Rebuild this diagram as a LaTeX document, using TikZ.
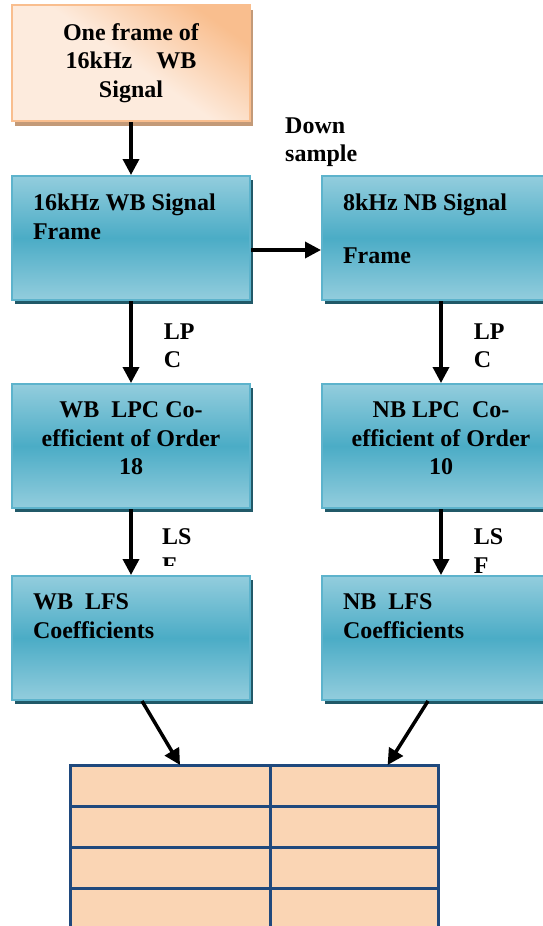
\documentclass[tikz,border=0pt]{standalone}
\usepackage{fontspec}
\setmainfont{Liberation Serif}
\usetikzlibrary{positioning, calc, shadows, arrows.meta}
\definecolor{boxtop}{HTML}{93CDDD}
\definecolor{boxmid}{HTML}{4BACC6}
\definecolor{boxline}{HTML}{5DB3CC}
\definecolor{boxshade}{HTML}{215968}
\definecolor{peachpale}{HTML}{FDEBDD}
\definecolor{peachdeep}{HTML}{F9BE8E}
\definecolor{peachshade}{HTML}{C39A78}
\definecolor{cellfill}{HTML}{FAD5B4}
\definecolor{cellline}{HTML}{1F497D}
\newcommand\inbox[2][196pt]{%
  \parbox[c][88pt][t]{#1}{#2}%
}

\begin{document}
\begin{tikzpicture}[x=1pt, y=1pt, node distance=100pt, on grid,
    font=\fontsize{24}{28.5}\selectfont\bfseries,
    >={Triangle[length=16pt, width=16pt]},
    sigbox/.style={rectangle, draw=boxline, line width=2pt,
      top color=boxtop, bottom color=boxtop, middle color=boxmid,
      minimum width=238pt, minimum height=124pt, inner sep=0pt,
      general shadow={fill=boxshade, shadow xshift=3pt, shadow yshift=-4pt}},
    framebox/.style={rectangle, draw=peachdeep, line width=2pt,
      top color=peachdeep, bottom color=peachpale, middle color=peachpale,
      shading angle=-35,
      minimum width=238pt, minimum height=116pt, align=center,
      general shadow={fill=peachshade, shadow xshift=3pt, shadow yshift=-5pt}},
    cell/.style={rectangle, draw=cellline, line width=3pt, fill=cellfill,
      minimum height=41pt, inner sep=0pt, outer sep=0pt},
    flow/.style={->, line width=3.5pt},
    tag/.style={align=left, inner sep=0pt}]
    \useasboundingbox (0,0) rectangle (543,-926);

    \node[framebox] (frame) at (131,-63) {One frame of\\16kHz\quad WB\\Signal};
    \node[sigbox] (wbsig) [below=175pt of frame] {\inbox{16kHz WB Signal\\Frame}};
    \node[sigbox] (nbsig) [right=310pt of wbsig] {\inbox{8kHz NB Signal\\[24pt]Frame}};
    \node[sigbox] (wblpc) [below=208pt of wbsig] {\inbox{\centering WB\ \ LPC Co-\\efficient of Order\\18}};
    \node[sigbox] (nblpc) [below=208pt of nbsig] {\inbox{\centering NB LPC\ \ Co-\\efficient of Order\\10}};
    \node[sigbox] (wblfs) [below=192pt of wblpc] {\inbox{WB\ \ LFS\\Coefficients}};
    \node[sigbox] (nblfs) [below=192pt of nblpc] {\inbox{NB\ \ LFS\\Coefficients}};
    \node[tag, anchor=south west] (down) at ($(nbsig.north west)+(-36,8)$) {Down\\sample};

    % the table of coefficients
    \foreach \r in {1,...,4} {
      \node[cell, minimum width=200pt] (a\r) at (170,-744.5-41*\r) {};
      \node[cell, minimum width=168pt] (b\r) at (354,-744.5-41*\r) {};
    }

    \draw[flow] (frame) -- (wbsig);
    \draw[flow] ($(wbsig.east)+(0,-12)$) -- ($(nbsig.west)+(0,-12)$);
    \draw[flow] (wbsig) -- node[tag, right, xshift=31pt, yshift=-4pt] (lpcwb) {LP\\C} (wblpc);
    \draw[flow] (nbsig) -- node[tag, right, xshift=31pt, yshift=-4pt] (lpcnb) {LP\\C} (nblpc);
    \begin{scope}
      \clip (wblpc.south west) rectangle ($(wblfs.north east)+(0,10)$);
      \path (wblpc) -- node[tag, right, xshift=31pt, yshift=-9pt] (lsfwb) {LS\\F} (wblfs);
    \end{scope}
    \draw[flow] (wblpc) -- (wblfs);
    \draw[flow] (nblpc) -- node[tag, right, xshift=31pt, yshift=-9pt] (lsfnb) {LS\\F} (nblfs);
    \draw[flow] ($(wblfs.south)+(11,0)$) -- ($(a1.north west)!0.55!(a1.north east)$);
    \draw[flow] ($(nblfs.south)+(-13,0)$) -- ($(b1.north west)!0.7!(b1.north east)$);
\end{tikzpicture}
\end{document}
